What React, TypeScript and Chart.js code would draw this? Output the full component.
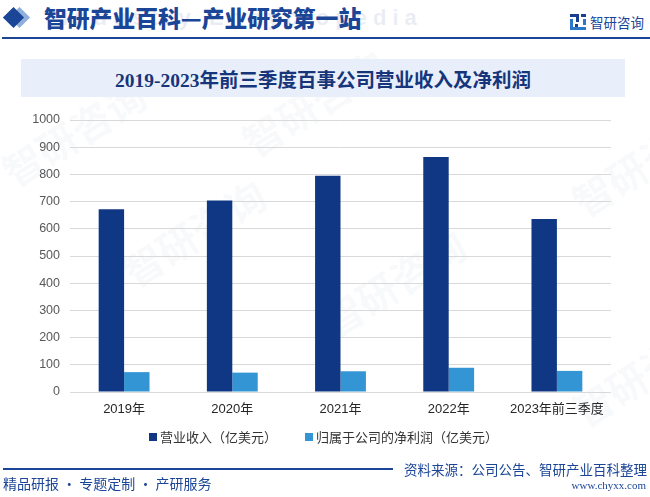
import React, { useEffect, useRef } from 'react';
import { Chart, registerables } from 'chart.js';

Chart.register(...registerables);

const categories = ['2019年', '2020年', '2021年', '2022年', '2023年前三季度'];
const revenue = [671.6, 703.7, 794.7, 863.9, 636.2];
const netProfit = [73.1, 71.2, 76.2, 89.1, 77.6];
const seriesNames = ['营业收入（亿美元）', '归属于公司的净利润（亿美元）'];
const yMin = 0;
const yMax = 1000;
const yStep = 100;

const DARK = '#0f3784';
const LIGHT = '#3395d3';
const NAVY = '#1b4596';
const TICK_FONT = "'Liberation Sans', Arial, 'Noto Sans CJK SC', sans-serif";
const CJK = "'Noto Sans CJK SC', 'Liberation Sans', sans-serif";

function Logo({ size = 16 }: { size?: number }) {
  return (
    <svg width={size} height={size} viewBox="0 0 16 16">
      <rect x="0" y="0" width="9" height="3" fill="#1b3f8f" />
      <rect x="6" y="0" width="3" height="8" fill="#1b3f8f" />
      <rect x="0" y="5" width="3" height="11" fill="#2a78c8" />
      <rect x="0" y="13" width="16" height="3" fill="#2a78c8" />
      <rect x="11" y="0" width="5" height="3" fill="#1b3f8f" />
      <rect x="13" y="5" width="3" height="6" fill="#2a78c8" />
      <rect x="5" y="10" width="3" height="3" fill="#1b3f8f" />
    </svg>
  );
}

function Watermark({ x, y }: { x: number; y: number }) {
  return (
    <div
      style={{
        position: 'absolute',
        left: x,
        top: y,
        transform: 'rotate(-32deg)',
        transformOrigin: 'left top',
        color: 'rgba(150,170,200,0.07)',
        fontFamily: CJK,
        fontWeight: 700,
        fontSize: 40,
        whiteSpace: 'nowrap',
        pointerEvents: 'none',
      }}
    >
      智研咨询
    </div>
  );
}

export default function App() {
  const ref = useRef<HTMLCanvasElement>(null);

  useEffect(() => {
    const chart = new Chart(ref.current as HTMLCanvasElement, {
      type: 'bar',
      data: {
        labels: categories,
        datasets: [
          {
            label: seriesNames[0],
            data: revenue,
            backgroundColor: DARK,
            categoryPercentage: 0.47,
            barPercentage: 1,
          },
          {
            label: seriesNames[1],
            data: netProfit,
            backgroundColor: LIGHT,
            categoryPercentage: 0.47,
            barPercentage: 1,
          },
        ],
      },
      options: {
        animation: false,
        responsive: false,
        devicePixelRatio: 1,
        layout: { padding: { left: 0, top: 120, right: 39, bottom: 75 } },
        plugins: { legend: { display: false }, tooltip: { enabled: false } },
        scales: {
          x: {
            grid: { display: false, drawTicks: false },
            border: { display: false },
            ticks: {
              padding: 10,
              color: '#262626',
              maxRotation: 0,
              autoSkip: false,
              font: { family: TICK_FONT, size: 13 },
            },
            afterFit: (s: any) => {
              s.height = 30;
            },
          },
          y: {
            min: yMin,
            max: yMax,
            ticks: {
              stepSize: yStep,
              padding: 10,
              color: '#595959',
              font: { family: TICK_FONT, size: 12.5 },
              callback: (v: any) => String(v),
            },
            grid: { color: '#d9d9d9', drawTicks: false, lineWidth: 1 },
            border: { display: false },
            afterFit: (s: any) => {
              s.width = 70;
            },
          },
        },
      },
    } as any);
    return () => chart.destroy();
  }, []);

  return (
    <div
      style={{
        position: 'absolute',
        left: 0,
        top: 0,
        width: 650,
        height: 497,
        background: '#ffffff',
        overflow: 'hidden',
      }}
    >
      <Watermark x={-10} y={150} />
      <Watermark x={110} y={250} />
      <Watermark x={310} y={300} />
      <Watermark x={560} y={180} />
      <Watermark x={560} y={390} />
      <Watermark x={230} y={120} />

      {/* header */}
      <div
        style={{
          position: 'absolute',
          left: 6,
          top: 10,
          width: 15,
          height: 15,
          background: '#8fb0dc',
          transform: 'rotate(45deg)',
          marginLeft: 6,
        }}
      />
      <div
        style={{
          position: 'absolute',
          left: 6,
          top: 10,
          width: 15,
          height: 15,
          background: NAVY,
          transform: 'rotate(45deg)',
        }}
      />
      <div
        style={{
          position: 'absolute',
          left: 62,
          top: 5,
          fontFamily: "'Liberation Sans', sans-serif",
          fontWeight: 700,
          fontSize: 22,
          letterSpacing: 6,
          color: 'rgba(170,185,210,0.25)',
          whiteSpace: 'nowrap',
        }}
      >
        Industry Encyclopedia
      </div>
      <div
        style={{
          position: 'absolute',
          left: 44,
          top: 2,
          fontFamily: CJK,
          fontWeight: 900,
          fontSize: 22.8,
          lineHeight: '32px',
          color: NAVY,
          whiteSpace: 'nowrap',
        }}
      >
        智研产业百科—产业研究第一站
      </div>
      <div
        style={{
          position: 'absolute',
          left: 570,
          top: 14,
          width: 16,
          height: 16,
        }}
      >
        <Logo size={16} />
      </div>
      <div
        style={{
          position: 'absolute',
          left: 590,
          top: 12,
          fontFamily: CJK,
          fontSize: 13.5,
          lineHeight: '20px',
          color: NAVY,
          whiteSpace: 'nowrap',
        }}
      >
        智研咨询
      </div>
      <div
        style={{
          position: 'absolute',
          left: 2,
          top: 37,
          width: 648,
          height: 2,
          background: NAVY,
        }}
      />

      {/* title box */}
      <div
        style={{
          position: 'absolute',
          left: 21,
          top: 59,
          width: 604,
          height: 38,
          background: '#e8effa',
          display: 'flex',
          alignItems: 'center',
          justifyContent: 'center',
          fontFamily: "'Liberation Serif', 'Noto Sans CJK SC', serif",
          fontWeight: 700,
          fontSize: 19.5,
          color: '#17357a',
          whiteSpace: 'nowrap',
        }}
      >
        2019-2023年前三季度百事公司营业收入及净利润
      </div>

      <canvas
        ref={ref}
        width={650}
        height={497}
        style={{ position: 'absolute', left: 0, top: 0, width: 650, height: 497 }}
      />

      {/* legend */}
      <div
        style={{
          position: 'absolute',
          left: 149,
          top: 433,
          width: 8,
          height: 8,
          background: DARK,
        }}
      />
      <div
        style={{
          position: 'absolute',
          left: 160,
          top: 428,
          fontFamily: CJK,
          fontSize: 13,
          lineHeight: '18px',
          color: '#333333',
          whiteSpace: 'nowrap',
        }}
      >
        {seriesNames[0]}
      </div>
      <div
        style={{
          position: 'absolute',
          left: 305,
          top: 433,
          width: 8,
          height: 8,
          background: LIGHT,
        }}
      />
      <div
        style={{
          position: 'absolute',
          left: 316,
          top: 428,
          fontFamily: CJK,
          fontSize: 13,
          lineHeight: '18px',
          color: '#333333',
          whiteSpace: 'nowrap',
        }}
      >
        {seriesNames[1]}
      </div>

      {/* footer */}
      <div
        style={{
          position: 'absolute',
          left: 3,
          top: 468,
          width: 390,
          height: 1.5,
          background: NAVY,
        }}
      />
      <div
        style={{
          position: 'absolute',
          right: 3,
          top: 460,
          fontFamily: CJK,
          fontSize: 13.5,
          lineHeight: '18px',
          color: NAVY,
          whiteSpace: 'nowrap',
        }}
      >
        资料来源：公司公告、智研产业百科整理
      </div>
      <div
        style={{
          position: 'absolute',
          right: 4,
          top: 478,
          fontFamily: "'Liberation Serif', serif",
          fontSize: 11,
          lineHeight: '14px',
          color: NAVY,
          whiteSpace: 'nowrap',
        }}
      >
        www.chyxx.com
      </div>
      <div
        style={{
          position: 'absolute',
          left: 3,
          top: 474,
          fontFamily: CJK,
          fontSize: 14,
          lineHeight: '18px',
          color: NAVY,
          whiteSpace: 'nowrap',
        }}
      >
        精品研报 · 专题定制 · 产研服务
      </div>
    </div>
  );
}
